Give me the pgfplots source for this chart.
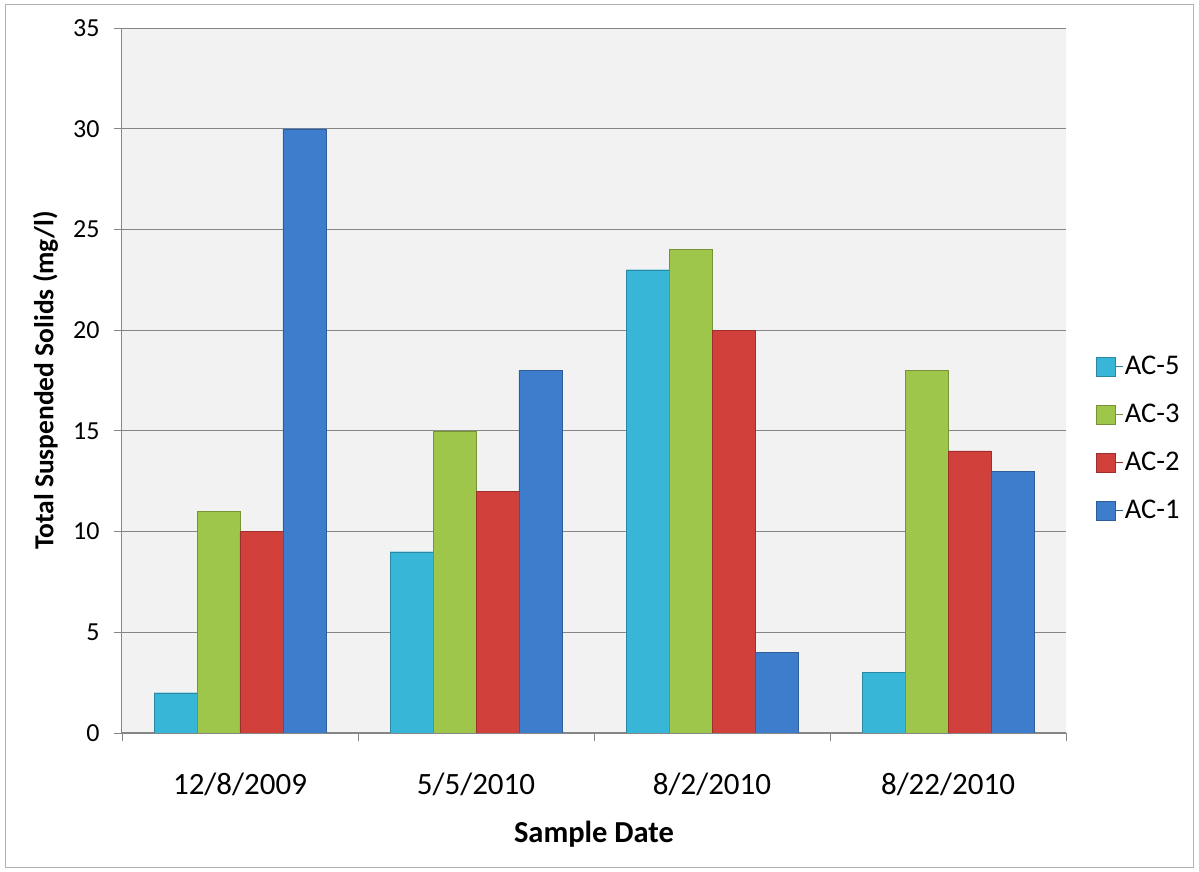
\documentclass[border=0pt]{standalone}
\usepackage{pgfplots}
\pgfplotsset{compat=1.18}
\usepackage{fontspec}
\setmainfont{Carlito}
\definecolor{cfive}{RGB}{56,182,216}
\definecolor{cthree}{RGB}{158,198,74}
\definecolor{ctwo}{RGB}{210,64,60}
\definecolor{cone}{RGB}{62,124,204}
\definecolor{gridgray}{RGB}{134,134,134}
\begin{document}
\begin{tikzpicture}
\useasboundingbox (-122pt,-139pt) rectangle (1077pt,733pt);
\fill[white] (-122pt,-139pt) rectangle (1077pt,733pt);
\draw[gray!60, line width=1pt] (-116pt,-134pt) rectangle (1071pt,728pt);
\begin{axis}[
    scale only axis, width=944pt, height=705pt,
    at={(0pt,0pt)}, anchor=south west,
    xmin=-0.5, xmax=3.5, ymin=0, ymax=35,
    ytick={0,5,...,35},
    axis background/.style={fill=black!5},
    axis x line*=bottom, axis y line*=left,
    axis line style={draw=gridgray, line width=1pt, -},
    ymajorgrids, grid style={gridgray, line width=0.9pt},
    xtick={-0.5,0.5,1.5,2.5,3.5}, xticklabels={},
    extra x ticks={0,1,2,3},
    extra x tick labels={12/8/2009,5/5/2010,8/2/2010,8/22/2010},
    extra x tick style={major tick length=0pt, grid=none,
        xticklabel style={yshift=-36pt}},
    major tick length=8pt, tick align=outside,
    tick style={gridgray, line width=0.9pt},
    /pgf/number format/assume math mode=true,
    yticklabel style={font=\fontsize{26}{30}\selectfont, xshift=-11pt},
    xticklabel style={font=\fontsize{31}{36}\selectfont},
    ylabel={\textbf{Total Suspended Solids (mg/l)}},
    xlabel={\textbf{Sample Date}},
    ylabel style={font=\fontsize{27.5}{32}\selectfont,
        at={(axis description cs:-0.081,0.5)}, anchor=center},
    xlabel style={font=\fontsize{30.5}{35}\selectfont,
        at={(axis description cs:0.5,-0.143)}, anchor=center},
    legend style={at={(axis description cs:1.032,0.418)}, anchor=west,
        draw=none, fill=none, font=\fontsize{28.5}{33}\selectfont,
        row sep=24pt, inner sep=0pt},
    legend cell align=left,
    legend image code/.code={\fill[#1] (0pt,-9.5pt) rectangle (19pt,9.5pt);
        \path (19pt,0pt) -- (26pt,0pt);},
]
\addplot[ybar, bar width=0.182, bar shift=-0.273, draw=cfive!75!black, fill=cfive]
    coordinates {(0,2) (1,9) (2,23) (3,3)};
\addplot[ybar, bar width=0.182, bar shift=-0.091, draw=cthree!75!black, fill=cthree]
    coordinates {(0,11) (1,15) (2,24) (3,18)};
\addplot[ybar, bar width=0.182, bar shift=0.091, draw=ctwo!75!black, fill=ctwo]
    coordinates {(0,10) (1,12) (2,20) (3,14)};
\addplot[ybar, bar width=0.182, bar shift=0.273, draw=cone!75!black, fill=cone]
    coordinates {(0,30) (1,18) (2,4) (3,13)};
\legend{AC-5,AC-3,AC-2,AC-1}
\end{axis}
\end{tikzpicture}
\end{document}
